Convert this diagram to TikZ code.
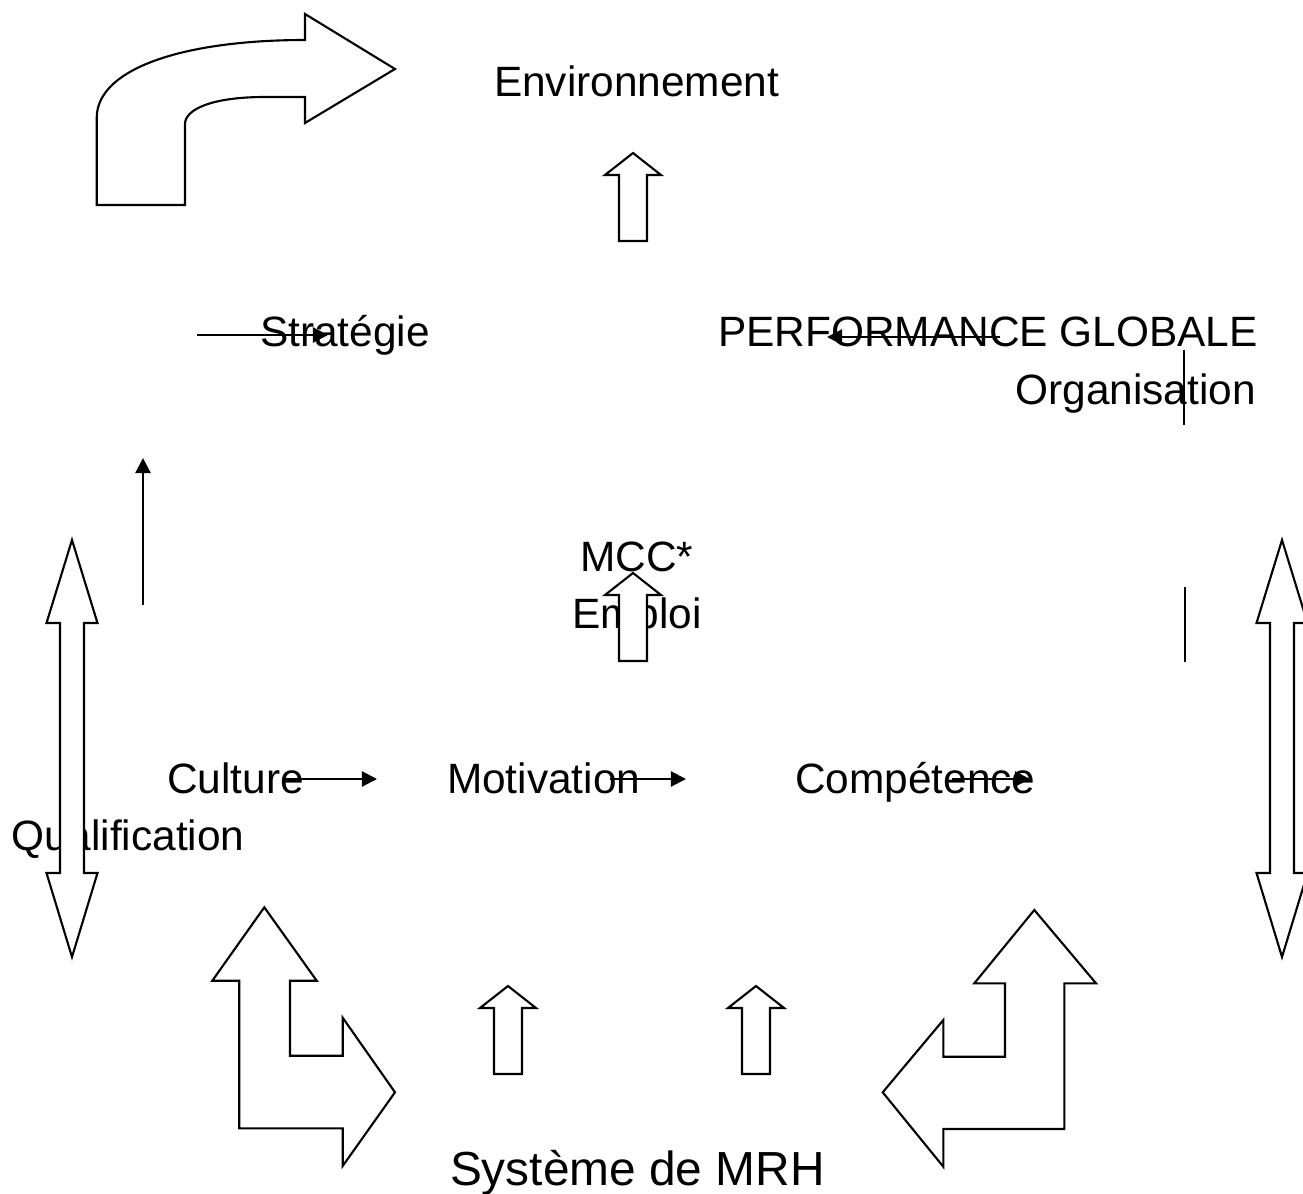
\documentclass[tikz,border=0pt]{standalone}
\usepackage{fontspec}
\setmainfont{Liberation Sans}
\usepackage{tikz}
\usetikzlibrary{arrows.meta}

\begin{document}
\begin{tikzpicture}[x=0.01cm,y=-0.01cm,line width=0.6pt,
  t/.style={inner sep=0pt,anchor=base west,font=\fontsize{12.06pt}{14pt}\selectfont},
  blk/.style={draw,fill=white,line join=miter},
  ln/.style={-{Triangle[length=4.3pt,width=4.3pt]}}]
  \useasboundingbox (0,0) rectangle (1303,1194);
  % texts
  \node[t](env) at (493,97){Environnement};
  \node[t](str) at (259,347){Stratégie};
  \node[t](perf) at (717,347){PERFORMANCE GLOBALE};
  \node[t,anchor=base east](org) at (1257,404){Organisation};
  \node[t](mcc) at (579,571){MCC*};
  \node[t](emp) at (571,628){Emploi};
  \node[t](cul) at (166,793){Culture};
  \node[t](mot) at (446,793){Motivation};
  \node[t](comp) at (794,793){Compétence};
  \node[t](qual) at (10,850){Qualification};
  \node[t,font=\fontsize{13.6pt}{16pt}\selectfont](mrh) at (449,1185){Système de MRH};
  % line arrows
  \coordinate (s1) at (197,335); \coordinate (s2) at (328,335);
  \coordinate (p1) at (1000,337); \coordinate (p2) at (827,337);
  \coordinate (o1) at (1184,350); \coordinate (o2) at (1184,425);
  \coordinate (r1) at (1185,587); \coordinate (r2) at (1185,662);
  \coordinate (l1) at (143,605); \coordinate (l2) at (143,458);
  \coordinate (c1) at (283,779); \coordinate (c2) at (377,779);
  \coordinate (m1) at (610,779); \coordinate (m2) at (686,779);
  \coordinate (k1) at (952,779); \coordinate (k2) at (1030,779);
  \draw[ln](s1)--(s2);\draw[ln](p1)--(p2);\draw[ln](l1)--(l2);
  \draw[ln](c1)--(c2);\draw[ln](m1)--(m2);\draw[ln](k1)--(k2);
  \draw(o1)--(o2);\draw(r1)--(r2);
  % block arrows
  \draw[blk](96.7,205)--(96.7,118) .. controls (96.7,68) and (185,40) .. (305,40)
    --(305,14)--(395,69)--(305,123)--(305,97)--(265,97)
    .. controls (210,97) and (185,110) .. (185,124)--(185,205)--cycle;
  \foreach \x/\y in {633/153,633/573,508/986,756/986}
    \draw[blk](\x,\y)--++(28,22)--++(-14,0)--++(0,66)--++(-28,0)--++(0,-66)--++(-14,0)--cycle;
  \foreach \x in {72,1282}
    \draw[blk](\x,540)--++(25.5,83)--++(-13.5,0)--++(0,250)--++(13.5,0)--(\x,957)
      --++(-25.5,-84)--++(13.5,0)--++(0,-250)--++(-13.5,0)--cycle;
  \draw[blk](264.3,907.3)--(316.7,980.7)--(290,980.7)--(290,1055.7)--(342.7,1055.7)--(342.7,1017.7)
    --(395,1092.3)--(342.7,1166)--(342.7,1128.3)--(239.3,1128.3)--(239.3,980.7)--(212.3,980.7)--cycle;
  \draw[blk](1034.3,910)--(1096,983.3)--(1064.3,983.3)--(1064.3,1129)--(943.3,1129)--(943.3,1166.7)
    --(882.7,1092.3)--(943.3,1020)--(943.3,1056.7)--(1005,1056.7)--(1005,983.3)--(974.3,983.3)--cycle;
\end{tikzpicture}
\end{document}
